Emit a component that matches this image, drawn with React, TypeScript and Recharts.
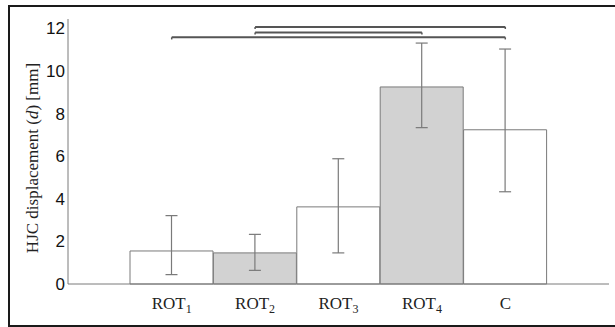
import React from "react";
import {
  BarChart,
  Bar,
  Cell,
  XAxis,
  YAxis,
  ErrorBar,
  ReferenceLine,
} from "recharts";

const categories = ["ROT1", "ROT2", "ROT3", "ROT4", "C"];
const means = [1.55, 1.46, 3.62, 9.25, 7.24];
const lowers = [0.44, 0.64, 1.46, 7.34, 4.33];
const uppers = [3.21, 2.33, 5.88, 11.31, 11.03];
const shaded = [false, true, false, true, false];

const yTicks = [0, 2, 4, 6, 8, 10, 12];

// significance brackets
const bracketFrom = ["ROT1", "ROT2", "ROT2"];
const bracketTo = ["C", "ROT4", "C"];
const bracketY = [11.58, 11.81, 12.07];

const data = categories.map((name, i) => ({
  name,
  mean: means[i],
  err: [means[i] - lowers[i], uppers[i] - means[i]],
}));

const GRAY = "#7a7a7a";
const BOX = "#9a9a9a";
const SERIF = "'Liberation Serif', 'Times New Roman', serif";
const SANS = "'Liberation Sans', Arial, sans-serif";

function CatTick(props: any) {
  const { x, y, payload } = props;
  const m = /^(\D+)(\d*)$/.exec(payload.value) || [payload.value, payload.value, ""];
  return (
    <text x={x} y={y + 17} textAnchor="middle" fontFamily={SERIF} fontSize={17} fill="#222">
      <tspan>{m[1]}</tspan>
      {m[2] ? (
        <tspan dy={4} fontSize={12}>
          {m[2]}
        </tspan>
      ) : null}
    </text>
  );
}

function YLabel() {
  return (
    <text
      transform="translate(38,158) rotate(-90)"
      textAnchor="middle"
      fontFamily={SERIF}
      fontSize={17}
      fill="#222"
    >
      HJC displacement (<tspan fontStyle="italic">d</tspan>) [mm]
    </text>
  );
}

export default function App() {
  return (
    <div style={{ position: "absolute", left: 0, top: 0, width: 615, height: 327, overflow: "hidden", background: "#fff" }}>
      <div
        style={{
          position: "absolute",
          left: 8,
          top: 5,
          width: 640,
          height: 318,
          border: "2px solid #1a1a1a",
        }}
      />
      <BarChart
        width={615}
        height={327}
        data={data}
        margin={{ top: 19, right: 6, left: 0, bottom: 13 }}
        barCategoryGap={0}
        style={{ position: "absolute", left: 0, top: 0 }}
      >
        <XAxis
          dataKey="name"
          padding={{ left: 62, right: 62 }}
          height={30}
          tickLine={false}
          axisLine={{ stroke: GRAY }}
          tick={<CatTick />}
          interval={0}
        />
        <XAxis
          xAxisId="top"
          orientation="top"
          dataKey="name"
          height={0}
          tick={false}
          tickLine={false}
          axisLine={{ stroke: BOX, strokeWidth: 1.5 }}
        />
        <YAxis
          width={68}
          domain={[0, 12.44]}
          ticks={yTicks}
          tickLine={false}
          tickSize={0}
          tickMargin={3}
          axisLine={{ stroke: GRAY }}
          tick={{ fill: "#111", fontSize: 17, fontFamily: SANS }}
          label={<YLabel />}
        />
        <YAxis
          yAxisId="right"
          orientation="right"
          width={0}
          domain={[0, 12.44]}
          tick={false}
          tickLine={false}
          axisLine={{ stroke: BOX, strokeWidth: 2 }}
        />
        <Bar dataKey="mean" stroke={GRAY} strokeWidth={1} isAnimationActive={false}>
          {data.map((d, i) => (
            <Cell key={d.name} fill={shaded[i] ? "#d2d2d2" : "#ffffff"} />
          ))}
          <ErrorBar dataKey="err" width={6} stroke={GRAY} strokeWidth={1.2} isAnimationActive={false} />
        </Bar>
        {bracketY.map((y, i) => (
          <ReferenceLine
            key={`b${i}`}
            segment={[
              { x: bracketFrom[i], y },
              { x: bracketTo[i], y },
            ]}
            stroke="#555"
            strokeWidth={2}
            ifOverflow="visible"
          />
        ))}
        {bracketY.map((y, i) => (
          <ReferenceLine
            key={`l${i}`}
            segment={[
              { x: bracketFrom[i], y },
              { x: bracketFrom[i], y: y - 0.1 },
            ]}
            stroke="#555"
            strokeWidth={1.5}
            ifOverflow="visible"
          />
        ))}
        {bracketY.map((y, i) => (
          <ReferenceLine
            key={`r${i}`}
            segment={[
              { x: bracketTo[i], y },
              { x: bracketTo[i], y: y - 0.1 },
            ]}
            stroke="#555"
            strokeWidth={1.5}
            ifOverflow="visible"
          />
        ))}
      </BarChart>
    </div>
  );
}
